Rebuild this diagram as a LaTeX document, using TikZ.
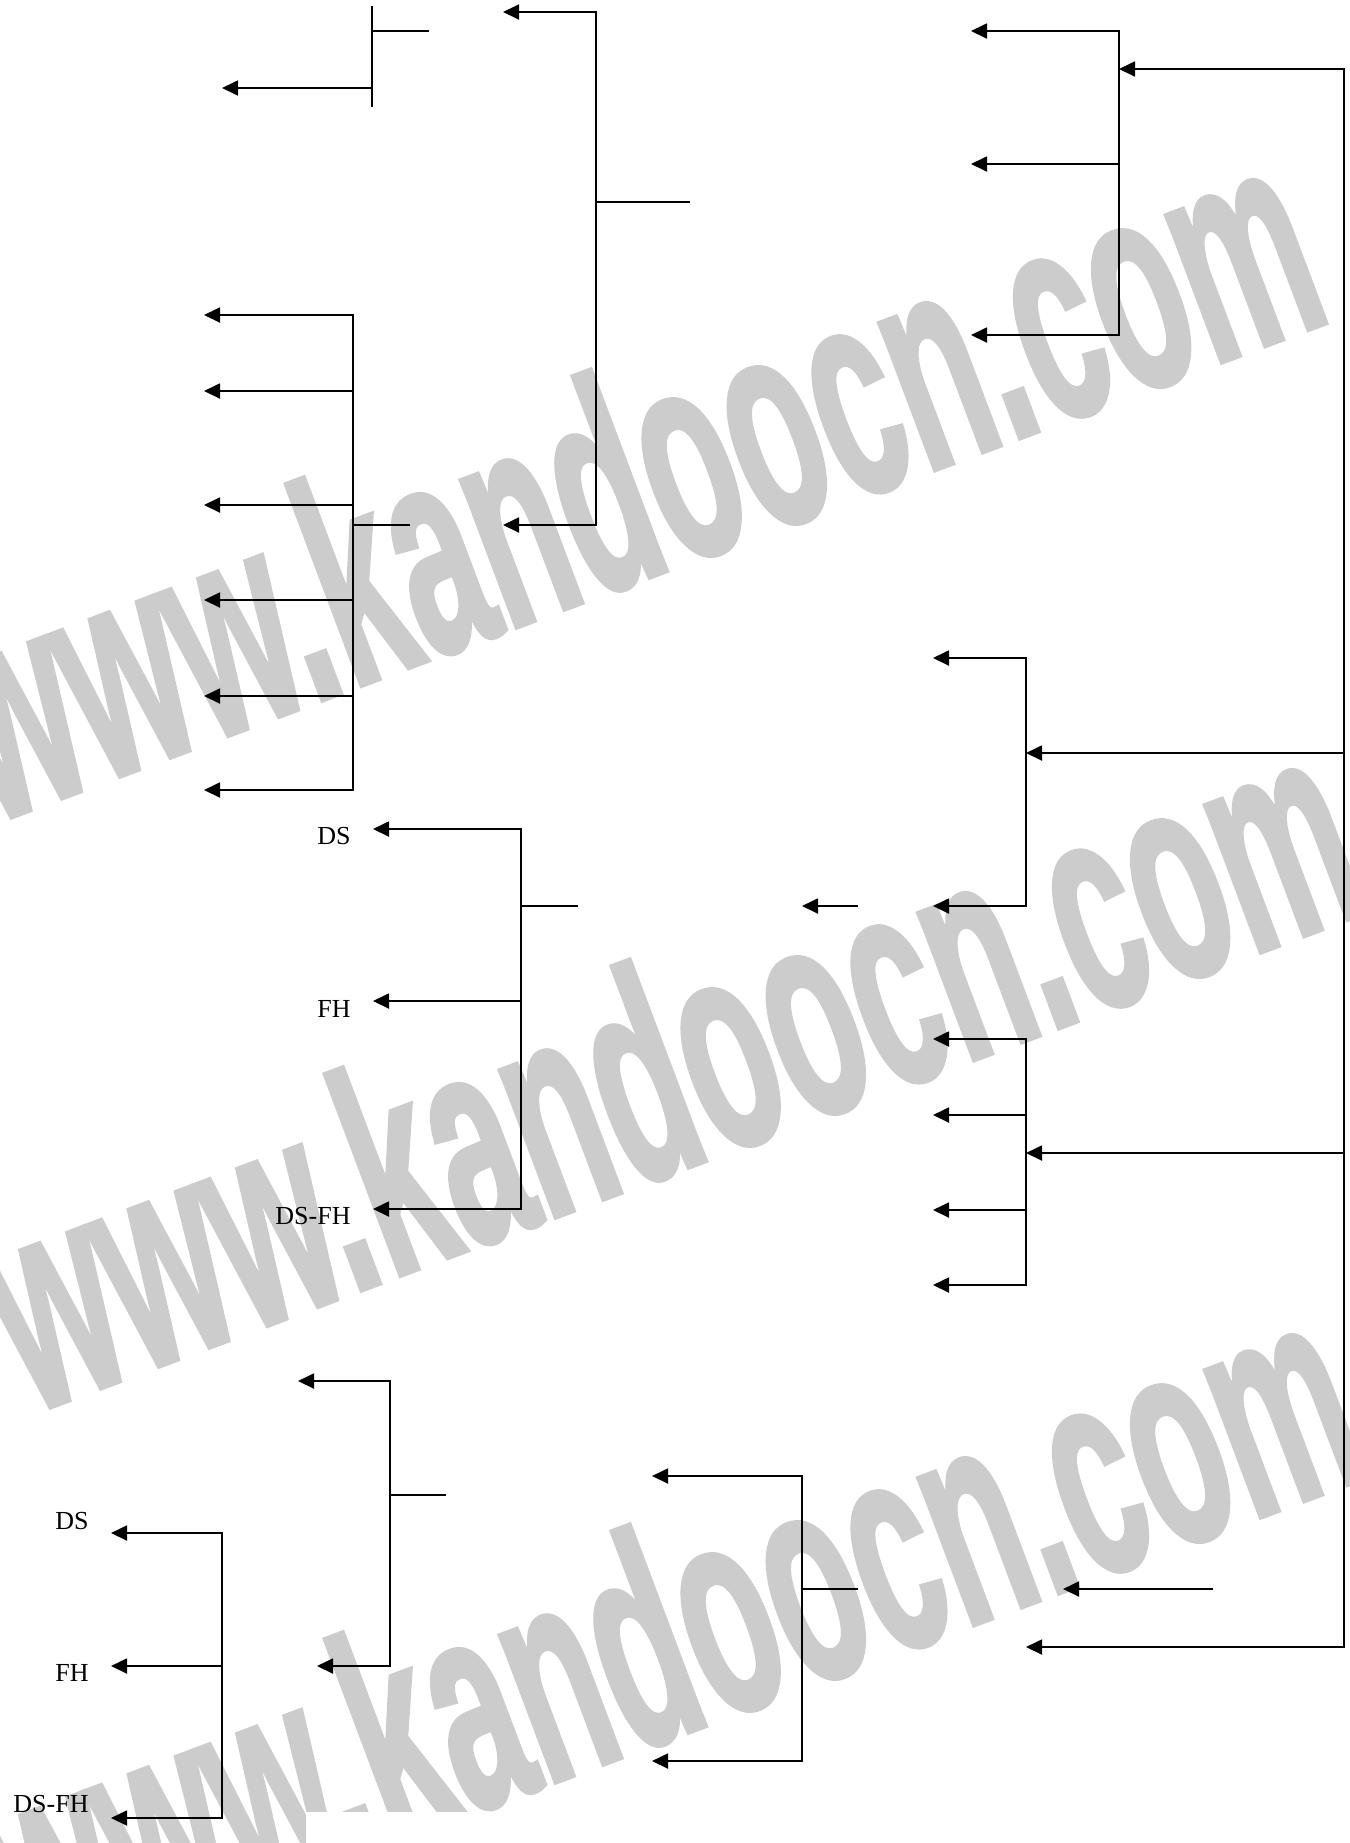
\documentclass[tikz,border=0pt]{standalone}
\usepackage{fontspec}
\setmainfont{Liberation Serif}
\newfontfamily\wmfont{Liberation Sans}[BoldFeatures={FakeBold=2}]
\usepackage{graphicx}
\usetikzlibrary{arrows.meta}
\definecolor{wmgray}{RGB}{204,204,204}
\tikzset{
  conn/.style={line width=0.9pt, line join=miter},
  arr/.style={conn, -{Triangle[length=8pt,width=7.5pt]}},
  arrtwo/.style={conn, {Triangle[length=8pt,width=7.5pt]}-{Triangle[length=8pt,width=7.5pt]}},
  lbl/.style={anchor=east, inner sep=0pt, font=\fontsize{13}{15}\selectfont},
  wm/.style={anchor=base west, inner sep=0pt, rotate=20.6, text=wmgray,
             font=\wmfont\bfseries\fontsize{74.5}{80}\selectfont}
}
\begin{document}
\begin{tikzpicture}[x=0.5pt,y=-0.5pt]
\useasboundingbox (0,0) rectangle (1350,1843);
\fill[white] (0,0) rectangle (1350,1843);
\begin{scope}
\clip (0,0) rectangle (1350,1843);
% watermark
\node[wm] (wm1) at (-8.5,824) {\scalebox{1}[1.98]{www.kandoocn.com}};
\node[wm] (wm2) at (30.5,1414) {\scalebox{1}[1.98]{www.kandoocn.com}};
\node[wm] (wm3) at (30.5,1979) {\scalebox{1}[1.98]{www.kandoocn.com}};
\fill[white] (306,1812) rectangle (1350,1843);
\end{scope}

% A: top-left
\coordinate (a-top) at (372,6);
\coordinate (a-bot) at (372,107);
\coordinate (a-mid) at (372,31);
\coordinate (a-out) at (429,31);
\coordinate (a-br) at (372,88);
\coordinate (a-tip) at (222,88);
\draw[conn] (a-top) -- (a-bot);
\draw[conn] (a-mid) -- (a-out);
\draw[arr] (a-br) -- (a-tip);

% B: top bracket
\coordinate (b-tip1) at (503,12);
\coordinate (b-c1) at (596,12);
\coordinate (b-c2) at (596,525);
\coordinate (b-tip2) at (503,525);
\coordinate (b-mid) at (596,202);
\coordinate (b-out) at (690,202);
\draw[arrtwo] (b-tip1) -- (b-c1) -- (b-c2) -- (b-tip2);
\draw[conn] (b-mid) -- (b-out);

% C: group of six
\coordinate (c-tip1) at (204,315);
\coordinate (c-c1) at (353,315);
\coordinate (c-c6) at (353,790);
\coordinate (c-tip6) at (204,790);
\draw[arrtwo] (c-tip1) -- (c-c1) -- (c-c6) -- (c-tip6);
\foreach \yy/\n in {391/2,505/3,600/4,696/5}{
  \coordinate (c-b\n) at (353,\yy);
  \coordinate (c-tip\n) at (204,\yy);
  \draw[arr] (c-b\n) -- (c-tip\n);
}
\coordinate (c-mid) at (353,525);
\coordinate (c-out) at (410,525);
\draw[conn] (c-mid) -- (c-out);

% D: DS / FH / DS-FH group
\coordinate (d-tip1) at (373,829);
\coordinate (d-c1) at (521,829);
\coordinate (d-c3) at (521,1209);
\coordinate (d-tip3) at (373,1209);
\coordinate (d-b2) at (521,1001);
\coordinate (d-tip2) at (373,1001);
\coordinate (d-mid) at (521,906);
\coordinate (d-out) at (578,906);
\draw[arrtwo] (d-tip1) -- (d-c1) -- (d-c3) -- (d-tip3);
\draw[arr] (d-b2) -- (d-tip2);
\draw[conn] (d-mid) -- (d-out);
\node[lbl] (d-l1) at (351,836) {DS};
\node[lbl] (d-l2) at (351,1008.5) {FH};
\node[lbl] (d-l3) at (351,1216) {DS-FH};

% E: small arrow
\coordinate (e-from) at (858,906);
\coordinate (e-tip) at (802,906);
\draw[arr] (e-from) -- (e-tip);

% F: upper right group
\coordinate (f-tip1) at (971,31);
\coordinate (f-c1) at (1119,31);
\coordinate (f-c3) at (1119,335);
\coordinate (f-tip3) at (971,335);
\coordinate (f-b2) at (1119,164);
\coordinate (f-tip2) at (971,164);
\draw[arrtwo] (f-tip1) -- (f-c1) -- (f-c3) -- (f-tip3);
\draw[arr] (f-b2) -- (f-tip2);

% G: main right bus
\coordinate (g-in) at (1119,69);
\coordinate (g-top) at (1344,69);
\coordinate (g-bot) at (1344,1647);
\coordinate (g-tipbot) at (1026,1647);
\draw[arrtwo] (g-in) -- (g-top) -- (g-bot) -- (g-tipbot);
\coordinate (g-b1) at (1344,753);
\coordinate (g-tip1) at (1026,753);
\coordinate (g-b2) at (1344,1153);
\coordinate (g-tip2) at (1026,1153);
\draw[arr] (g-b1) -- (g-tip1);
\draw[arr] (g-b2) -- (g-tip2);

% H: middle right group
\coordinate (h-tip1) at (933,658);
\coordinate (h-c1) at (1026,658);
\coordinate (h-c2) at (1026,906);
\coordinate (h-tip2) at (933,906);
\draw[arrtwo] (h-tip1) -- (h-c1) -- (h-c2) -- (h-tip2);

% I: lower right group
\coordinate (i-tip1) at (933,1039);
\coordinate (i-c1) at (1026,1039);
\coordinate (i-c4) at (1026,1285);
\coordinate (i-tip4) at (933,1285);
\draw[arrtwo] (i-tip1) -- (i-c1) -- (i-c4) -- (i-tip4);
\foreach \yy/\n in {1115/2,1210/3}{
  \coordinate (i-b\n) at (1026,\yy);
  \coordinate (i-tip\n) at (933,\yy);
  \draw[arr] (i-b\n) -- (i-tip\n);
}

% K: small arrow bottom right
\coordinate (k-from) at (1213,1589);
\coordinate (k-tip) at (1063,1589);
\draw[arr] (k-from) -- (k-tip);

% L: bottom middle bracket
\coordinate (l-tip1) at (652,1476);
\coordinate (l-c1) at (802,1476);
\coordinate (l-c2) at (802,1761);
\coordinate (l-tip2) at (652,1761);
\coordinate (l-mid) at (802,1589);
\coordinate (l-out) at (858,1589);
\draw[arrtwo] (l-tip1) -- (l-c1) -- (l-c2) -- (l-tip2);
\draw[conn] (l-mid) -- (l-out);

% M: bottom left bracket
\coordinate (m-tip1) at (298,1381);
\coordinate (m-c1) at (390,1381);
\coordinate (m-c2) at (390,1666);
\coordinate (m-tip2) at (317,1666);
\coordinate (m-mid) at (390,1495);
\coordinate (m-out) at (446,1495);
\draw[arrtwo] (m-tip1) -- (m-c1) -- (m-c2) -- (m-tip2);
\draw[conn] (m-mid) -- (m-out);

% N: bottom DS / FH / DS-FH group
\coordinate (n-tip1) at (111,1533);
\coordinate (n-c1) at (222,1533);
\coordinate (n-c3) at (222,1818);
\coordinate (n-tip3) at (111,1818);
\coordinate (n-b2) at (222,1666);
\coordinate (n-tip2) at (111,1666);
\draw[arrtwo] (n-tip1) -- (n-c1) -- (n-c3) -- (n-tip3);
\draw[arr] (n-b2) -- (n-tip2);
\node[lbl] (n-l1) at (89,1521) {DS};
\node[lbl] (n-l2) at (89,1672.5) {FH};
\node[lbl] (n-l3) at (89,1804) {DS-FH};
\end{tikzpicture}
\end{document}
